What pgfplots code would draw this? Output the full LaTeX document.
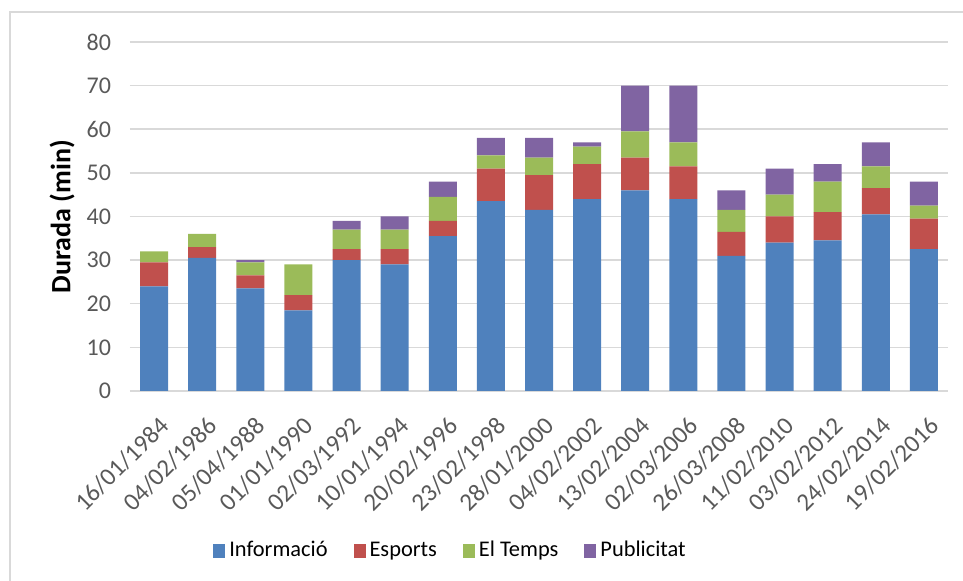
\documentclass[border=0pt]{standalone}
\usepackage{pgfplots}
\pgfplotsset{compat=1.18}
\usepackage{pgfplotstable}
\usepackage{fontspec}
\setmainfont{Carlito}
\definecolor{cInfo}{HTML}{4F81BD}
\definecolor{cEsp}{HTML}{C0504D}
\definecolor{cTemps}{HTML}{9BBB59}
\definecolor{cPub}{HTML}{8064A2}
\definecolor{txt}{HTML}{595959}
\definecolor{gridc}{HTML}{D9D9D9}
\pgfplotstableread{
x Info Esp Temps Pub
0  24   5.5 2.5 0
1  30.5 2.5 3   0
2  23.5 3   3   0.5
3  18.5 3.5 7   0
4  30   2.5 4.5 2
5  29   3.5 4.5 3
6  35.5 3.5 5.5 3.5
7  43.5 7.5 3   4
8  41.5 8   4   4.5
9  44   8   4   1
10 46   7.5 6   10.5
11 44   7.5 5.5 13
12 31   5.5 5   4.5
13 34   6   5   6
14 34.5 6.5 7   4
15 40.5 6   5   5.5
16 32.5 7   3   5.5
}\data
\begin{document}
\begin{tikzpicture}
\useasboundingbox (0,0) rectangle (481.5pt,290.5pt);
\draw[gridc, line width=0.9pt] (5pt,-2pt) -- (5pt,284.5pt) -- (484pt,284.5pt);
\begin{axis}[
  at={(65pt,95pt)}, anchor=south west,
  width=409pt, height=174.5pt, scale only axis,
  ybar stacked, bar width=14pt,
  xmin=-0.5, xmax=16.5, ymin=0, ymax=80,
  xtick={0,...,16},
  xticklabels={16/01/1984,04/02/1986,05/04/1988,01/01/1990,02/03/1992,10/01/1994,20/02/1996,23/02/1998,28/01/2000,04/02/2002,13/02/2004,02/03/2006,26/03/2008,11/02/2010,03/02/2012,24/02/2014,19/02/2016},
  ytick={0,10,...,80},
  major tick length=0,
  axis x line*=bottom, axis y line*=left,
  x axis line style={draw=gridc, line width=0.75pt, -},
  y axis line style={draw=none},
  ymajorgrids, grid style={draw=gridc, line width=0.75pt},
  /pgf/number format/assume math mode=true,
  yticklabel style={anchor=east, xshift=-6pt, font=\fontsize{12}{14}\selectfont, text=txt},
  xticklabel style={xshift=2pt, yshift=-7pt, rotate=45, anchor=north east, font=\fontsize{12.5}{14}\selectfont, text=txt},
  ylabel={\fontsize{14}{16}\selectfont\bfseries Durada (min)},
  every axis y label/.style={at={(axis description cs:-0.0831,0.5)}, rotate=90, anchor=center},
  legend image code/.code={\fill[#1] (0pt,-3.6pt) rectangle (6pt,3.6pt);},
  legend style={draw=none, at={(axis description cs:0.393,-0.458)}, anchor=center,
    legend columns=-1, font=\fontsize{11.2}{13}\selectfont,
    /tikz/every even column/.append style={column sep=11pt},
    nodes={text height=8pt, text depth=2.5pt},
    inner sep=0pt},
]
\addplot[fill=cInfo, draw=none] table[x=x,y=Info]{\data};
\addplot[fill=cEsp, draw=none] table[x=x,y=Esp]{\data};
\addplot[fill=cTemps, draw=none] table[x=x,y=Temps]{\data};
\addplot[fill=cPub, draw=none] table[x=x,y=Pub]{\data};
\legend{Informació,Esports,El Temps,Publicitat}
\end{axis}
\end{tikzpicture}
\end{document}
